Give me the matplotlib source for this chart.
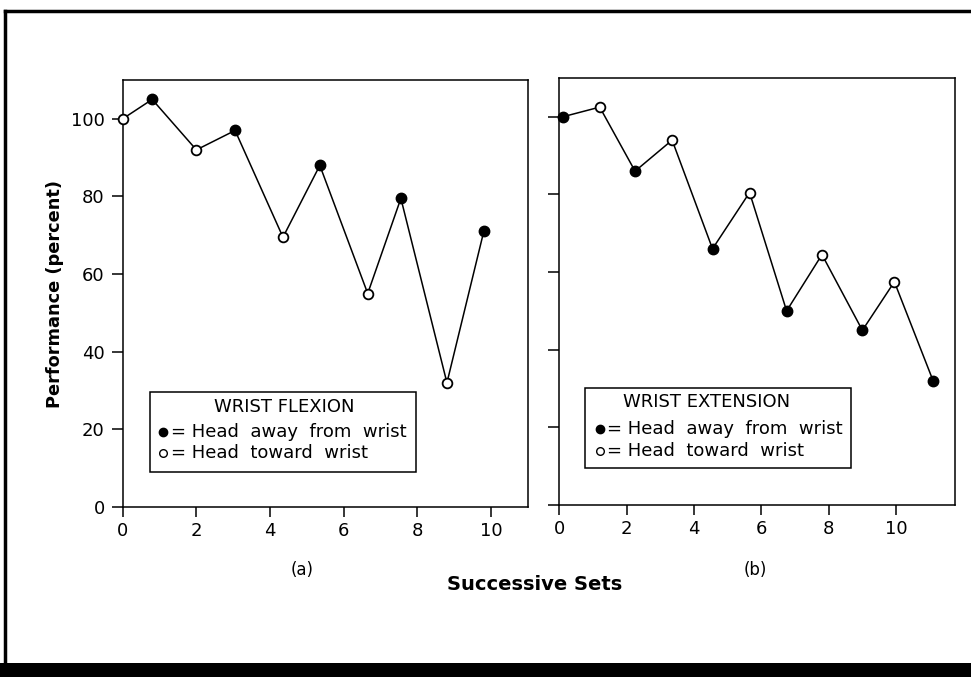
import matplotlib
matplotlib.use("Agg")
import matplotlib.pyplot as plt
from matplotlib.lines import Line2D
from matplotlib.patches import Rectangle

# ---- data ----
flex_sets = [0, 0.8, 2.0, 3.05, 4.35, 5.35, 6.65, 7.55, 8.8, 9.8]
flex_perf = [100, 105, 92, 97, 69.5, 88, 55, 79.5, 32, 71]
flex_head = ["toward", "away", "toward", "away", "toward", "away", "toward", "away", "toward", "away"]

ext_sets = [0.1, 1.2, 2.25, 3.35, 4.55, 5.65, 6.75, 7.8, 9.0, 9.95, 11.1]
ext_perf = [100, 102.5, 86, 94, 66, 80.5, 50, 64.5, 45, 57.5, 32]
ext_head = ["away", "toward", "away", "toward", "away", "toward", "away", "toward", "away", "toward", "away"]

x_ticks = [0, 2, 4, 6, 8, 10]
y_ticks = [0, 20, 40, 60, 80, 100]

W, H = 971, 677
fig = plt.figure(figsize=(W / 100, H / 100), dpi=100)
fig.patch.set_facecolor("white")

def px(l, t, r, b):
    return [l / W, 1 - b / H, (r - l) / W, (b - t) / H]

ax1 = fig.add_axes(px(122.7, 80, 528, 507))
ax2 = fig.add_axes(px(559.3, 78, 955, 505))

def draw(ax, xs, ys, heads, xmax, ylabels):
    ax.plot(xs, ys, color="black", lw=1.1, zorder=2, clip_on=False)
    for x, y, h in zip(xs, ys, heads):
        if h == "away":
            ax.plot([x], [y], marker="o", ms=7.5, mfc="black", mec="black",
                    mew=1.0, ls="none", zorder=3, clip_on=False)
        else:
            ax.plot([x], [y], marker="o", ms=7.0, mfc="white", mec="black",
                    mew=1.3, ls="none", zorder=3, clip_on=False)
    ax.set_xlim(0, xmax)
    ax.set_ylim(0, 110)
    ax.set_xticks(x_ticks)
    ax.set_xticklabels([str(t) for t in x_ticks], fontsize=13)
    ax.set_yticks(y_ticks)
    if ylabels:
        ax.set_yticklabels([str(t) for t in y_ticks], fontsize=13)
    else:
        ax.set_yticklabels([])
    ax.tick_params(axis="x", direction="out", length=7, width=1.1, pad=3.5)
    ax.tick_params(axis="y", direction="out", length=8, width=1.1, pad=5)
    for s in ax.spines.values():
        s.set_linewidth(1.1)

draw(ax1, flex_sets, flex_perf, flex_head, 11.0, True)
draw(ax2, ext_sets, ext_perf, ext_head, 11.75, False)

def legend_box(ax, x0, y0, x1, y1, title, tx, ty, mx, y_a, y_t):
    ax.add_patch(Rectangle((x0, y0), x1 - x0, y1 - y0, transform=ax.transAxes,
                           facecolor="white", edgecolor="black", lw=1.1, zorder=4))
    ax.text(tx, ty, title, transform=ax.transAxes, ha="center", va="center",
            fontsize=13, zorder=5)
    ax.plot([mx], [y_a], marker="o", ms=6.0, mfc="black", mec="black",
            transform=ax.transAxes, zorder=5, clip_on=False)
    ax.plot([mx], [y_t], marker="o", ms=5.5, mfc="white", mec="black", mew=1.0,
            transform=ax.transAxes, zorder=5, clip_on=False)
    ax.text(mx + 0.018, y_a, "= Head  away  from  wrist", transform=ax.transAxes,
            ha="left", va="center", fontsize=13, zorder=5)
    ax.text(mx + 0.018, y_t, "= Head  toward  wrist", transform=ax.transAxes,
            ha="left", va="center", fontsize=13, zorder=5)

legend_box(ax1, 0.0674, 0.0827, 0.7237, 0.270, "WRIST FLEXION",
           0.398, 0.234, 0.100, 0.1756, 0.1265)
legend_box(ax2, 0.065, 0.0867, 0.737, 0.274, "WRIST EXTENSION",
           0.3725, 0.2405, 0.103, 0.1773, 0.1265)

fig.text(302 / W, 1 - 570 / H, "(a)", ha="center", va="center", fontsize=12)
fig.text(755 / W, 1 - 570 / H, "(b)", ha="center", va="center", fontsize=12)
fig.text(535 / W, 1 - 585 / H, "Successive Sets", ha="center", va="center",
         fontsize=14, fontweight="heavy")
fig.text(55 / W, 1 - 294 / H, "Performance (percent)", ha="center", va="center",
         rotation=90, fontsize=12.8, fontweight="heavy")

# outer frame
fig.add_artist(Line2D([5 / W, 5 / W], [0, 1 - 11 / H], transform=fig.transFigure,
                      color="black", lw=2.5))
fig.add_artist(Line2D([5 / W, 1], [1 - 11 / H, 1 - 11 / H], transform=fig.transFigure,
                      color="black", lw=2.5))
fig.add_artist(Rectangle((0, 0), 1, 14 / H, transform=fig.transFigure,
                         facecolor="black", edgecolor="none"))

fig.savefig("out.png", dpi=100, facecolor="white")
